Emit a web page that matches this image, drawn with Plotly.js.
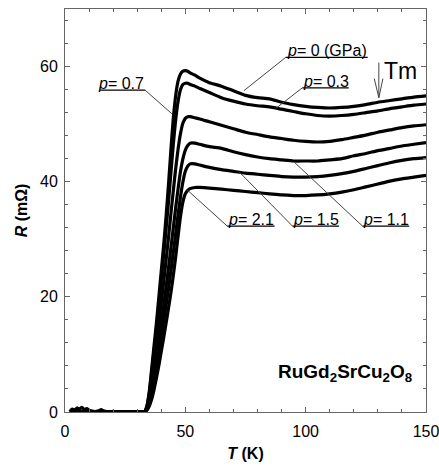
<!DOCTYPE html>
<html>
<head>
<meta charset="utf-8">
<script src="https://cdn.plot.ly/plotly-3.0.1.min.js"></script>
<style>html,body{margin:0;padding:0;background:#fff;}#chart{width:439px;height:469px;}</style>
</head>
<body>
<div id="chart"></div>
<script>
// Pressure labels (GPa)
const pressures = ["0", "0.3", "0.7", "1.1", "1.5", "2.1"];

// Low-temperature part (superconducting, R ~ 0 with noise)
const T_low = [2,3,4,5,6,7,8,9,10,11,12,13,14,15,16,17,18,20,22,25,28,31,32];
const R_low = [0.1,0.5,0.3,0.7,0.5,0.8,0.4,0.6,0.3,0.2,0.1,0.1,0.2,0.4,0.2,0.1,0,0.1,0,0,0,0,0];

// Temperature grid for the transition and normal state (K)
const T_grid = [33,34,35,36,37,38,39,40,41,42,43,44,45,46,47,48,49,50,51,52,54,56,60,65,70,75,80,85,90,95,100,105,110,115,120,125,130,135,140,145,150];

// Resistance (mOhm) for each pressure
const R_p0   = [0,1,3.5,7.5,11.5,15.5,20,24.5,29,34,39.5,45.5,51,55,57.5,58.7,59.2,59.3,59.2,58.9,58.5,58.0,57.2,56.6,55.8,55.0,54.6,54.4,53.8,53.4,53.1,52.9,52.8,52.9,53.1,53.4,53.8,54.1,54.4,54.7,54.9];
const R_p03  = [0,0.9,3.2,6.8,10.6,14.5,18.7,23,27.3,31.8,36.5,41.5,46.5,50.8,54,56,56.9,57.1,57.1,56.9,56.6,56.2,55.5,54.6,54.0,53.5,53.2,53.0,52.6,52.2,51.8,51.5,51.4,51.5,51.7,52.0,52.3,52.7,53.0,53.3,53.5];
const R_p07  = [0,0.7,2.4,5.2,8.4,11.7,15.2,18.9,22.6,26.4,30.3,34.4,38.4,42.3,45.7,48.4,50.2,51.0,51.3,51.3,51.1,50.9,50.4,49.8,49.2,48.6,48.2,47.8,47.5,47.2,47.0,46.9,47.0,47.3,47.7,48.1,48.6,49.0,49.4,49.7,49.9];
const R_p11  = [0,0.5,1.7,3.9,6.5,9.3,12.3,15.4,18.5,21.7,25.0,28.5,32.0,35.5,38.8,41.8,44.0,45.5,46.3,46.7,46.7,46.5,46.1,45.8,45.2,44.7,44.3,44.0,43.8,43.6,43.6,43.6,43.8,44.0,44.5,44.9,45.4,45.8,46.2,46.5,46.8];
const R_p15  = [0,0.4,1.3,3.0,5.2,7.6,10.2,12.9,15.7,18.5,21.4,24.5,27.7,31.0,34.3,37.4,40.0,41.8,42.7,43.1,43.1,42.9,42.5,42.1,41.8,41.5,41.3,41.1,40.9,40.8,40.8,40.9,41.1,41.4,41.8,42.3,42.8,43.3,43.7,44.0,44.2];
const R_p21  = [0,0.3,1,2.2,3.9,5.9,8.1,10.5,12.9,15.4,18.0,20.7,23.7,27.0,30.6,34.0,36.5,37.9,38.5,38.8,39.0,39.0,38.9,38.7,38.5,38.3,38.1,37.9,37.7,37.6,37.6,37.7,37.9,38.2,38.6,39.1,39.6,40.1,40.5,40.8,41.1];

const seriesR = [R_p0, R_p03, R_p07, R_p11, R_p15, R_p21];

const traces = seriesR.map((R, i) => ({
  x: T_low.concat(T_grid),
  y: (i === 0 ? R_low : T_low.map(() => 0)).concat(R),
  type: "scatter",
  mode: "lines",
  name: "p=" + pressures[i],
  line: {color: "#000", width: 3.2, shape: "spline", smoothing: 0.6},
  hoverinfo: "skip"
}));

const lab = t => "<span style=\"font-style:italic\">p</span>= " + t;
const F = {family: "Arial, 'Liberation Sans', sans-serif", size: 16, color: "#000"};

const annotations = [
  {x: 91.7, y: 61.1, text: lab(pressures[0] + " (GPa)"), xanchor: "left", yanchor: "bottom"},
  {x: 98.6, y: 55.8, text: lab(pressures[1]), xanchor: "left", yanchor: "bottom"},
  {x: 33.3, y: 55.4, text: lab(pressures[2]), xanchor: "right", yanchor: "bottom"},
  {x: 123.6, y: 31.8, text: lab(pressures[3]), xanchor: "left", yanchor: "bottom"},
  {x: 94.5, y: 31.8, text: lab(pressures[4]), xanchor: "left", yanchor: "bottom"},
  {x: 67.4, y: 31.8, text: lab(pressures[5]), xanchor: "left", yanchor: "bottom"},
  {x: 132.3, y: 56.8, text: "Tm", xanchor: "left", yanchor: "bottom", font: {family: F.family, size: 23, color: "#000"}},
  {x: 116.2, y: 6.8, text: "<b>RuGd<sub>2</sub>SrCu<sub>2</sub>O<sub>8</sub></b>", xanchor: "center", yanchor: "middle", font: {family: F.family, size: 19, color: "#000"}}
].map(a => Object.assign({xref: "x", yref: "y", showarrow: false, font: F, borderpad: 0}, a));

const seg = (x0, y0, x1, y1, w, c) => ({type: "line", xref: "x", yref: "y", x0, y0, x1, y1, line: {color: c, width: w}});
const shapes = [
  // leaders
  seg(91.7, 61.6, 74.3, 55.8, 1, "#444"),
  seg(98.6, 56.3, 87.5, 52.7, 1, "#444"),
  seg(33.3, 55.9, 44.4, 51.8, 1, "#444"),
  seg(123.6, 32.3, 95.0, 43.5, 1, "#444"),
  seg(94.5, 32.3, 72.4, 41.7, 1, "#444"),
  seg(67.4, 32.3, 50.7, 38.6, 1, "#444"),
  // underlines
  seg(91.7, 61.6, 125.8, 61.6, 1.3, "#000"),
  seg(98.6, 56.3, 117.9, 56.3, 1.3, "#000"),
  seg(14.6, 55.9, 33.3, 55.9, 1.3, "#000"),
  seg(123.6, 32.3, 143.0, 32.3, 1.3, "#000"),
  seg(94.5, 32.3, 113.9, 32.3, 1.3, "#000"),
  seg(67.4, 32.3, 87.1, 32.3, 1.3, "#000"),
  // Tm arrow
  {type: "path", xref: "x", yref: "y", path: "M130.4,60.7 L130.4,54.6 M128.5,57.9 L130.4,54.6 L132.1,57.9", line: {color: "#444", width: 1}}
];

const axisCommon = {
  showline: true, linecolor: "#666", linewidth: 1, mirror: "ticks",
  ticks: "inside", ticklen: 5, tickcolor: "#666", tickwidth: 1,
  showgrid: false, zeroline: false,
  tickfont: F
};

const layout = {
  width: 439, height: 469,
  margin: {l: 65, r: 13, t: 9, b: 57},
  paper_bgcolor: "#fff", plot_bgcolor: "#fff",
  showlegend: false,
  xaxis: Object.assign({}, axisCommon, {
    range: [0, 150], tick0: 0, dtick: 50,
    ticklabeloverflow: "allow", ticklabelstandoff: 5,
    minor: {dtick: 10, ticks: "inside", ticklen: 3, tickcolor: "#666"},
    title: {text: "<b><i>T</i> (K)</b>", font: F, standoff: 8}
  }),
  yaxis: Object.assign({}, axisCommon, {
    range: [0, 70], tick0: 0, dtick: 20,
    ticklabelstandoff: 3,
    minor: {dtick: 4, ticks: "inside", ticklen: 3, tickcolor: "#666"},
    title: {text: "<b><i>R</i> (mΩ)</b>", font: F, standoff: 8}
  }),
  annotations, shapes
};

Plotly.newPlot("chart", traces, layout, {displayModeBar: false, staticPlot: true});
</script>
</body>
</html>
